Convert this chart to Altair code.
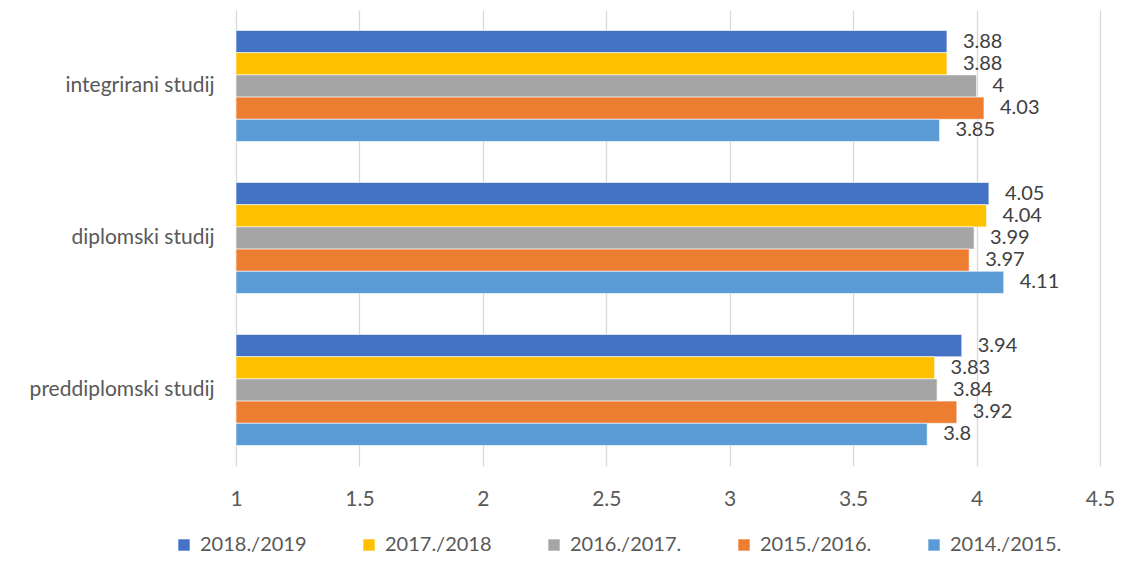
import altair as alt
import pandas as pd

categories = ["integrirani studij", "diplomski studij", "preddiplomski studij"]
series = ["2018./2019", "2017./2018", "2016./2017.", "2015./2016.", "2014./2015."]
colors = ["#4472C4", "#FFC000", "#A5A5A5", "#ED7D31", "#5B9BD5"]
v_2018_2019 = [3.88, 4.05, 3.94]
v_2017_2018 = [3.88, 4.04, 3.83]
v_2016_2017 = [4, 3.99, 3.84]
v_2015_2016 = [4.03, 3.97, 3.92]
v_2014_2015 = [3.85, 4.11, 3.8]
x_ticks = [1, 1.5, 2, 2.5, 3, 3.5, 4, 4.5]

values = [v_2018_2019, v_2017_2018, v_2016_2017, v_2015_2016, v_2014_2015]
rows = []
for s, vals in zip(series, values):
    for c, v in zip(categories, vals):
        rows.append({"kategorija": c, "godina": s, "vrijednost": v, "label": f"{v:g}"})
df = pd.DataFrame(rows)

FONT = "Lato"
FS = 21

y_enc = alt.Y("kategorija:N", sort=categories, title=None,
              scale=alt.Scale(paddingInner=0.27, paddingOuter=0.135),
              axis=alt.Axis(labelFontSize=FS, labelColor="#595959", labelFont=FONT,
                            ticks=False, domain=False, labelPadding=22, labelLimit=0))
yoff = alt.YOffset("godina:N", sort=series, scale=alt.Scale(paddingInner=0, paddingOuter=0))
x_enc = alt.X("vrijednost:Q", title=None,
              scale=alt.Scale(domain=[1, 4.5], zero=False, nice=False),
              axis=alt.Axis(values=x_ticks, labelFontSize=FS, labelColor="#595959", labelFont=FONT,
                            ticks=False, domain=False, gridColor="#D9D9D9", gridWidth=1.3,
                            labelPadding=22, format="~g", labelFlush=False))

bars = alt.Chart(df).mark_bar(stroke="white", strokeWidth=0.6).encode(
    y=y_enc,
    yOffset=yoff,
    x=x_enc,
    x2=alt.datum(1),
    color=alt.Color("godina:N", sort=series,
                    scale=alt.Scale(domain=series, range=colors),
                    legend=alt.Legend(title=None, orient="none", legendX=-62, legendY=525,
                                      direction="horizontal", symbolType="square",
                                      symbolSize=130, symbolStrokeWidth=0,
                                      labelFontSize=20, labelColor="#595959", labelFont=FONT,
                                      columnPadding=52, labelOffset=6, labelLimit=0)),
)

texts = alt.Chart(df).mark_text(align="left", baseline="middle", dx=16, fontSize=20,
                                color="#404040", font=FONT).encode(
    y=alt.Y("kategorija:N", sort=categories),
    yOffset=yoff,
    x=alt.X("vrijednost:Q"),
    text="label:N",
)

chart = alt.layer(bars, texts).properties(
    width=864, height=456,
    autosize=alt.AutoSizeParams(type="none"),
    padding={"left": 228, "top": 2, "right": 14, "bottom": 88},
).configure_view(stroke=None)

chart.save("out.html", embed_options={"renderer": "svg", "actions": False})
